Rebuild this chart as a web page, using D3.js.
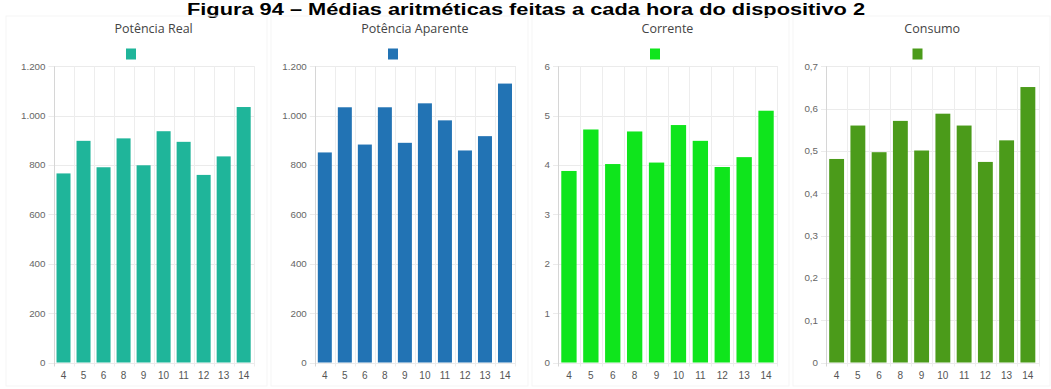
<!DOCTYPE html>
<html>
<head>
<meta charset="utf-8">
<script src="https://cdn.jsdelivr.net/npm/d3@7"></script>
<style>
  html, body { margin: 0; padding: 0; background: #ffffff; }
  svg { display: block; }
</style>
</head>
<body>
<svg id="chart" width="1051" height="389"></svg>
<script>
// ---- data ----
const hours = ["4", "5", "6", "8", "9", "10", "11", "12", "13", "14"];
const potenciaReal = [766, 898, 791, 908, 799, 937, 894, 760, 835, 1035];
const potenciaAparente = [851, 1034, 883, 1034, 890, 1050, 981, 859, 917, 1130];
const corrente = [3.88, 4.72, 4.02, 4.68, 4.05, 4.81, 4.49, 3.96, 4.16, 5.10];
const consumo = [0.481, 0.560, 0.497, 0.571, 0.501, 0.588, 0.560, 0.474, 0.525, 0.651];

const panelTitles = ["Potência Real", "Potência Aparente", "Corrente", "Consumo"];
const yTicksPower = [0, 200, 400, 600, 800, 1000, 1200];
const yTicksCurrent = [0, 1, 2, 3, 4, 5, 6];
const yTicksConsumo = [0, 0.1, 0.2, 0.3, 0.4, 0.5, 0.6, 0.7];
const mainTitle = "Figura 94 – Médias aritméticas feitas a cada hora do dispositivo 2";

// ---- layout ----
const panels = [
  { title: panelTitles[0], values: potenciaReal, ticks: yTicksPower, max: 1200, color: "#1fb59a",
    px0: 6, px1: 267, x0: 53.5, x1: 253.7, legendX: 131, fmt: v => d3.format(",")(v).replace(/,/g, ".") },
  { title: panelTitles[1], values: potenciaAparente, ticks: yTicksPower, max: 1200, color: "#2273b4",
    px0: 271, px1: 528, x0: 314.8, x1: 515, legendX: 393, fmt: v => d3.format(",")(v).replace(/,/g, ".") },
  { title: panelTitles[2], values: corrente, ticks: yTicksCurrent, max: 6, color: "#0fe51c",
    px0: 532, px1: 789, x0: 558, x1: 777, legendX: 655, fmt: v => String(v) },
  { title: panelTitles[3], values: consumo, ticks: yTicksConsumo, max: 0.7, color: "#4b9b1a",
    px0: 793, px1: 1050, x0: 826, x1: 1038.5, legendX: 917.5, fmt: v => String(+v.toFixed(1)).replace(".", ",") }
];

const yBottom = 362.5, yTop = 66.3;
const svg = d3.select("#chart");

svg.append("text")
  .attr("x", 526).attr("y", 15)
  .attr("text-anchor", "middle")
  .attr("font-family", "Liberation Sans, Arial, sans-serif")
  .attr("font-weight", "bold")
  .attr("font-size", 16)
  .attr("textLength", 678)
  .attr("lengthAdjust", "spacingAndGlyphs")
  .attr("fill", "#000")
  .text(mainTitle);

panels.forEach(p => {
  const g = svg.append("g");

  // faint panel frame
  g.append("rect")
    .attr("x", p.px0).attr("y", 16).attr("width", p.px1 - p.px0).attr("height", 370)
    .attr("fill", "none").attr("stroke", "#f5f5f5").attr("stroke-width", 1);

  const x = d3.scaleBand().domain(hours).range([p.x0, p.x1]).paddingInner(0.3).paddingOuter(0.15);
  const y = d3.scaleLinear().domain([0, p.max]).range([yBottom, yTop]);

  // horizontal gridlines
  g.selectAll("line.hg").data(p.ticks).enter().append("line")
    .attr("x1", p.x0 - 5).attr("x2", p.x1 + 1)
    .attr("y1", d => Math.round(y(d)) + 0.5).attr("y2", d => Math.round(y(d)) + 0.5)
    .attr("stroke", "#ebebeb").attr("stroke-width", 1);

  // vertical gridlines at band boundaries
  const bounds = d3.range(hours.length + 1).map(i => p.x0 + i * (p.x1 - p.x0) / hours.length);
  g.selectAll("line.vg").data(bounds).enter().append("line")
    .attr("x1", d => Math.round(d) + 0.5).attr("x2", d => Math.round(d) + 0.5)
    .attr("y1", yTop).attr("y2", yBottom + 4)
    .attr("stroke", (d, i) => i === 0 ? "#d6d6d6" : "#ededed").attr("stroke-width", 1);

  // y labels
  g.selectAll("text.yl").data(p.ticks).enter().append("text")
    .attr("x", p.x0 - 8).attr("y", d => y(d) + 3.4)
    .attr("text-anchor", "end")
    .attr("font-family", "Liberation Sans, Arial, sans-serif")
    .attr("font-size", 9.8).attr("fill", "#666")
    .text(d => p.fmt(d));

  // bars
  g.selectAll("rect.bar").data(p.values).enter().append("rect")
    .attr("x", (d, i) => x(hours[i]))
    .attr("width", x.bandwidth())
    .attr("y", d => y(d))
    .attr("height", d => yBottom - y(d))
    .attr("fill", p.color);

  // x labels
  g.selectAll("text.xl").data(hours).enter().append("text")
    .attr("x", d => x(d) + x.bandwidth() / 2).attr("y", 378.5)
    .attr("text-anchor", "middle")
    .attr("font-family", "Liberation Sans, Arial, sans-serif")
    .attr("font-size", 10).attr("fill", "#555")
    .text(d => d);

  // panel title
  g.append("text")
    .attr("x", (p.x0 + p.x1) / 2).attr("y", 33)
    .attr("text-anchor", "middle")
    .attr("font-family", "Open Sans, Noto Sans, sans-serif")
    .attr("font-size", 12.5).attr("fill", "#444")
    .text(p.title);

  // legend box
  g.append("rect")
    .attr("x", p.legendX - 5).attr("y", 48.5).attr("width", 10).attr("height", 11)
    .attr("fill", p.color);
});
</script>
</body>
</html>
